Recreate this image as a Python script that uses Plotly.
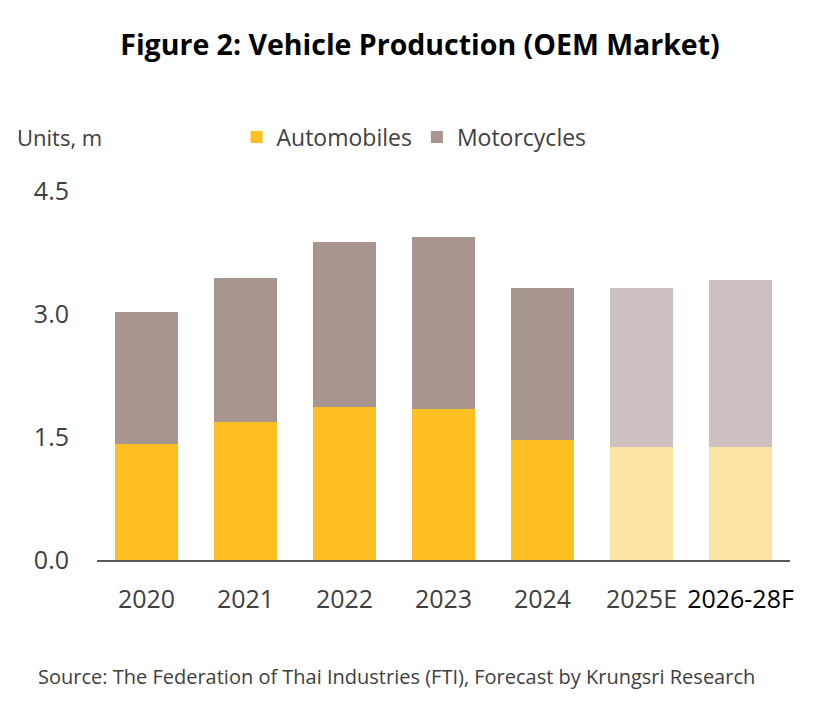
import plotly.graph_objects as go

categories = ["2020", "2021", "2022", "2023", "2024", "2025E", "2026-28F"]
automobiles = [1.42, 1.68, 1.87, 1.84, 1.46, 1.38, 1.38]
totals = [3.02, 3.44, 3.88, 3.94, 3.32, 3.32, 3.41]
motorcycles = [round(t - a, 2) for t, a in zip(totals, automobiles)]
y_ticks = [0.0, 1.5, 3.0, 4.5]
x_ticktext = categories[:-1] + ["<span style='color:#000000'>2026-28F</span>"]

auto_colors = ["#FDBF22"] * 5 + ["#FDE4A4"] * 2
moto_colors = ["#A8958F"] * 5 + ["#CDC1BF"] * 2

FONT = "Open Sans"
W, H = 840, 726
OFF = 8  # page body offset
L, R, T, B = 97 - OFF, 58, 191 - OFF, 174
pw, ph = W - L - R, H - T - B


def px_to_paper(xp, yp):
    xp -= OFF
    yp -= OFF
    return (xp - L) / pw, (H - B - yp) / ph


fig = go.Figure()
fig.add_trace(go.Bar(x=categories, y=automobiles, name="Automobiles",
                     marker=dict(color=auto_colors, line=dict(width=0))))
fig.add_trace(go.Bar(x=categories, y=motorcycles, name="Motorcycles",
                     marker=dict(color=moto_colors, line=dict(width=0))))

ux, uy = px_to_paper(15, 137)
sx, sy = px_to_paper(396, 676)
lx, ly = px_to_paper(414, 137)

fig.update_layout(
    barmode="stack",
    bargap=0.37,
    width=W, height=H,
    margin=dict(l=L, r=R, t=T, b=B, autoexpand=False),
    paper_bgcolor="white", plot_bgcolor="white",
    font=dict(family=FONT, color="#404040"),
    showlegend=True,
    legend=dict(orientation="h", x=lx, y=ly, xanchor="center", yanchor="middle",
                font=dict(size=23, color="#404040"), traceorder="normal"),
    title=dict(text="<b>Figure 2: Vehicle Production (OEM Market)</b>",
               x=(420 - OFF) / W, xanchor="center", y=1 - (45 - OFF) / H, yanchor="middle",
               font=dict(size=28.5, color="#000000", family=FONT)),
    xaxis=dict(type="category", automargin=False,
               tickvals=categories, ticktext=x_ticktext, tickangle=0,
               showline=True, linecolor="#595959", linewidth=2,
               tickfont=dict(size=25, color="#404040"), ticks="",
               ticklabelstandoff=16,
               showgrid=False),
    yaxis=dict(range=[0, 4.5], tickvals=y_ticks, tickformat=".1f", automargin=False,
               showgrid=False, zeroline=False, showline=False,
               tickfont=dict(size=25, color="#404040"), ticks="",
               ticklabelstandoff=27),
    annotations=[
        dict(text="Units, m", x=ux, y=uy, xref="paper", yref="paper",
             xanchor="left", yanchor="middle",
             showarrow=False, font=dict(size=22, color="#404040")),
        dict(text="Source: The Federation of Thai Industries (FTI), Forecast by Krungsri Research",
             x=sx, y=sy, xref="paper", yref="paper",
             xanchor="center", yanchor="middle",
             showarrow=False, font=dict(size=20, color="#404040")),
    ],
)

fig.write_html("out.html")
